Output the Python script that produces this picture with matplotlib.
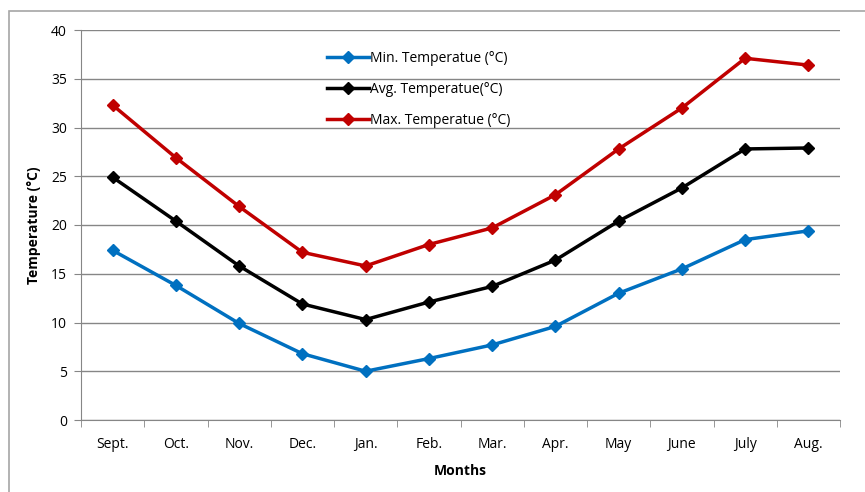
import matplotlib.pyplot as plt
from matplotlib.patches import Rectangle

months = ["Sept.", "Oct.", "Nov.", "Dec.", "Jan.", "Feb.", "Mar.", "Apr.", "May", "June", "July", "Aug."]
t_min = [17.4, 13.8, 9.9, 6.8, 5.0, 6.3, 7.7, 9.6, 13.0, 15.5, 18.5, 19.4]
t_avg = [24.9, 20.4, 15.8, 11.9, 10.3, 12.1, 13.7, 16.4, 20.4, 23.8, 27.8, 27.9]
t_max = [32.3, 26.9, 21.9, 17.2, 15.8, 18.0, 19.7, 23.1, 27.8, 32.0, 37.1, 36.4]

plt.rcParams['font.family'] = ['Open Sans', 'DejaVu Sans']

fig = plt.figure(figsize=(8.65, 4.92), dpi=100)
ax = fig.add_axes([81/865, 1 - 420/492, 759/865, 390/492])

# outer chart border
fig.patches.append(Rectangle((9/865, -0.1), 1.2, 1 - 11/492 + 0.1, transform=fig.transFigure,
                             fill=False, edgecolor='#a6a6a6', linewidth=1.2))

x = list(range(len(months)))
ax.plot(x, t_min, color='#0070C0', marker='D', markersize=6, linewidth=2.5, label='Min. Temperatue (°C)')
ax.plot(x, t_avg, color='black', marker='D', markersize=6, linewidth=2.5, label='Avg. Temperatue(°C)')
ax.plot(x, t_max, color='#C00000', marker='D', markersize=6, linewidth=2.5, label='Max. Temperatue (°C)')

ax.set_ylim(0, 40)
ax.set_xlim(-0.5, 11.5)
ax.set_yticks(range(0, 41, 5))
ax.set_xticks(x)
ax.set_xticklabels(months)
ax.set_xticks([i - 0.5 for i in range(13)], minor=True)
ax.tick_params(axis='x', which='major', length=0, pad=12, labelsize=10)
ax.tick_params(axis='x', which='minor', length=5, color='#868686', direction='out')
ax.tick_params(axis='y', length=5, color='#868686', labelsize=10, pad=5)
ax.yaxis.grid(True, color='#868686', linewidth=1)
ax.set_axisbelow(True)
for s in ['top', 'right']:
    ax.spines[s].set_visible(False)
ax.spines['left'].set_color('#868686')
ax.spines['bottom'].set_color('#868686')

ax.set_ylabel('Temperature (°C)', fontweight='bold', fontsize=10, labelpad=7)
ax.set_xlabel('Months', fontweight='bold', fontsize=10, labelpad=9)

ax.legend(loc='upper left', bbox_to_anchor=(0.315, 0.965), frameon=False, fontsize=10,
          handlelength=3, labelspacing=1.15, handletextpad=0.1, borderpad=0)

fig.savefig('out.png', dpi=100)
